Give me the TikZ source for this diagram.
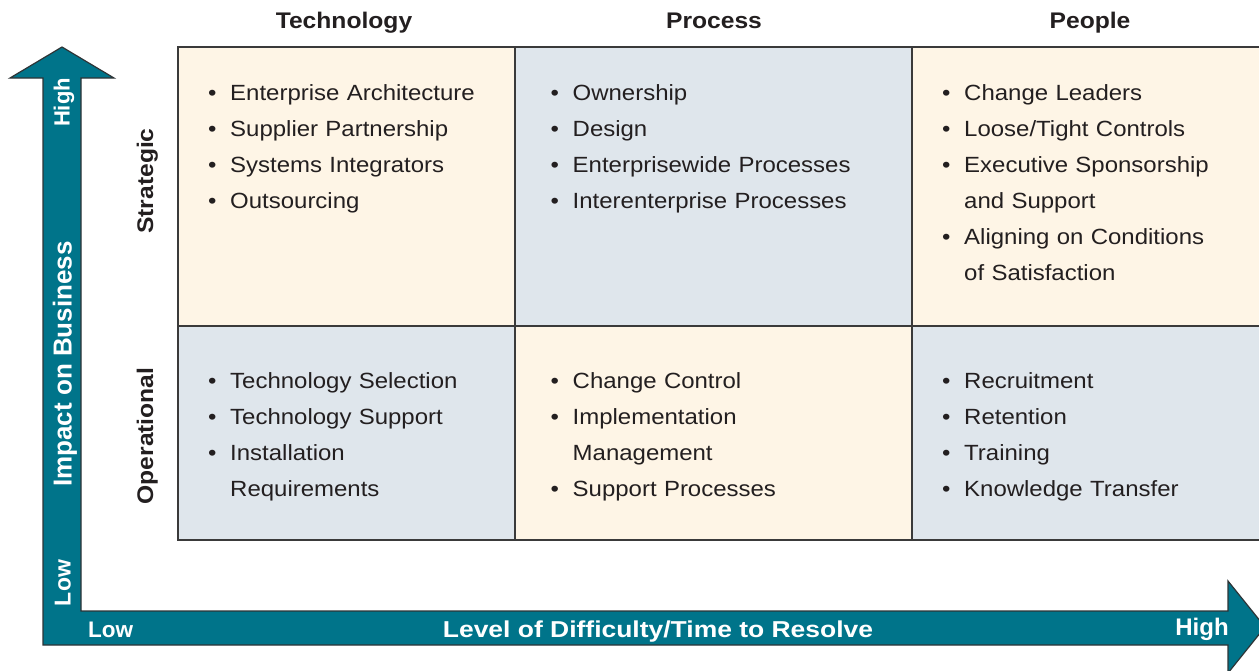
\documentclass[tikz,border=0pt]{standalone}
\usepackage{fontspec}
\setmainfont{Liberation Sans}[FakeStretch=1.09]
\newfontfamily\plainfont{Liberation Sans}
\newfontfamily\widefont{Liberation Sans}[FakeStretch=1.15]
\definecolor{cream}{HTML}{FEF5E6}
\definecolor{bluegrey}{HTML}{DFE6EC}
\definecolor{arrowteal}{HTML}{00748A}
\definecolor{arrowline}{HTML}{2E3436}
\definecolor{ink}{HTML}{231F20}
\definecolor{gridline}{HTML}{3A3A3A}
\newcommand\bitem[1]{\makebox[22pt][l]{\textbullet}#1}
\newcommand\citem[1]{\hspace*{22pt}#1}
\tikzset{
  cell/.style={anchor=base west, inner sep=0pt, text width=320pt, align=left, text=ink,
    font=\fontsize{22}{36}\selectfont},
  colhead/.style={anchor=base, inner sep=0pt, text=ink, font=\bfseries\fontsize{22.6}{26}\selectfont},
  rowlab/.style={colhead, rotate=90},
  axlab/.style={anchor=base, inner sep=0pt, text=white},
  gridrule/.style={draw=gridline, line width=1.4pt},
}
\begin{document}
\begin{tikzpicture}[x=1pt,y=-1pt]
\useasboundingbox (0,0) rectangle (1259,670);
\clip (0,0) rectangle (1259,670);

% cells
\fill[cream] (178,47) rectangle (515,326);
\fill[bluegrey] (515,47) rectangle (912,326);
\fill[cream] (912,47) rectangle (1275,326);
\fill[bluegrey] (178,326) rectangle (515,540);
\fill[cream] (515,326) rectangle (912,540);
\fill[bluegrey] (912,326) rectangle (1275,540);
\draw[gridrule] (1275,47) -- (178,47) -- (178,540) -- (1275,540);
\draw[gridrule] (178,326) -- (1275,326);
\draw[gridrule] (515,47) -- (515,540);
\draw[gridrule] (912,47) -- (912,540);

% headers
\node[colhead] (hTech) at (344,28) {Technology};
\node[colhead] (hProc) at (714,28) {Process};
\node[colhead] (hPeop) at (1090,28) {People};
\node[rowlab] (rStrat) at (153,181) {Strategic};
\node[rowlab] (rOper) at (153,436) {Operational};

% cell contents
\node[cell] (cTS) at (208,100) {\bitem{Enterprise Architecture}\\\bitem{Supplier Partnership}\\\bitem{Systems Integrators}\\\bitem{Outsourcing}};
\node[cell] (cPS) at (550.5,100) {\bitem{Ownership}\\\bitem{Design}\\\bitem{Enterprisewide Processes}\\\bitem{Interenterprise Processes}};
\node[cell] (cHS) at (942,100) {\bitem{Change Leaders}\\\bitem{Loose/Tight Controls}\\\bitem{Executive Sponsorship}\\\citem{and Support}\\\bitem{Aligning on Conditions}\\\citem{of Satisfaction}};
\node[cell] (cTO) at (208,388) {\bitem{Technology Selection}\\\bitem{Technology Support}\\\bitem{Installation}\\\citem{Requirements}};
\node[cell] (cPO) at (550.5,388) {\bitem{Change Control}\\\bitem{Implementation}\\\citem{Management}\\\bitem{Support Processes}};
\node[cell] (cHO) at (942,388) {\bitem{Recruitment}\\\bitem{Retention}\\\bitem{Training}\\\bitem{Knowledge Transfer}};

% L-shaped axis arrow
\filldraw[fill=arrowteal, draw=arrowline, line width=1.2pt, line join=miter]
  (43,645) -- (43,78) -- (10,78) -- (62,47) -- (114,78) -- (81,78) -- (81,611)
  -- (1228,611) -- (1228,581) -- (1265,627) -- (1228,673) -- (1228,645) -- cycle;

\node[axlab, rotate=90, font=\plainfont\bfseries\fontsize{22}{26}\selectfont] (vHigh) at (69.5,102.5) {High};
\node[axlab, rotate=90, font=\plainfont\bfseries\fontsize{26}{30}\selectfont] (vImpact) at (71.5,364) {Impact on Business};
\node[axlab, rotate=90, font=\plainfont\bfseries\fontsize{23}{26}\selectfont] (vLow) at (70.5,583) {Low};
\node[axlab, font=\plainfont\bfseries\fontsize{22.5}{26}\selectfont] (hLow) at (110.5,637) {Low};
\node[axlab, font=\widefont\bfseries\fontsize{23}{26}\selectfont] (hLevel) at (658,637) {Level of Difficulty/Time to Resolve};
\node[axlab, font=\plainfont\bfseries\fontsize{24}{26}\selectfont] (hHigh) at (1202,635) {High};
\end{tikzpicture}
\end{document}
